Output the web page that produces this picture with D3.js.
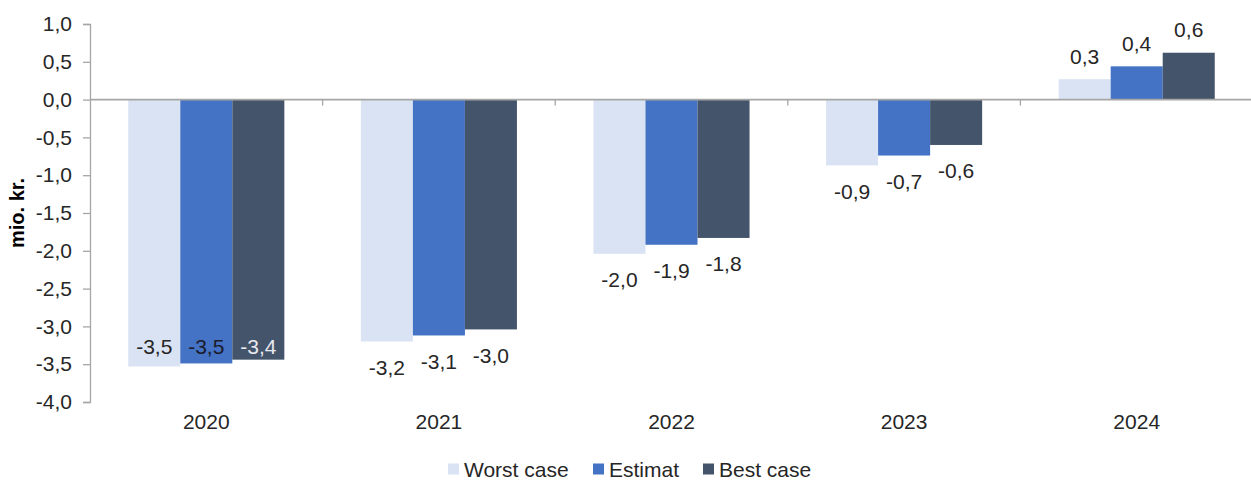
<!DOCTYPE html>
<html>
<head>
<meta charset="utf-8">
<script src="https://cdn.jsdelivr.net/npm/d3@7"></script>
<style>
  html, body { margin: 0; padding: 0; background: #ffffff; }
  svg { display: block; font-family: "Liberation Sans", Arial, sans-serif; }
</style>
</head>
<body>
<svg id="chart" width="1251" height="480"></svg>
<script>
// Annual result by scenario (mio. kr.)
const years = ["2020", "2021", "2022", "2023", "2024"];
const seriesNames = ["Worst case", "Estimat", "Best case"];
const worstCase = [-3.53, -3.20, -2.04, -0.87, 0.27];
const estimat   = [-3.49, -3.12, -1.92, -0.74, 0.44];
const bestCase  = [-3.44, -3.04, -1.83, -0.60, 0.62];
const yTicks = [-4.0, -3.5, -3.0, -2.5, -2.0, -1.5, -1.0, -0.5, 0.0, 0.5, 1.0];
const yTitle = "mio. kr.";

const seriesValues = [worstCase, estimat, bestCase];
const colors = ["#dae3f3", "#4472c4", "#44546a"];
const insideLabelColors = ["#262626", "#1b1b2a", "#e8e8ee"];
const textColor = "#262626";
const axisColor = "#a6a6a6";
const fontSize = 21;
const fontFamily = "'Liberation Sans', Arial, sans-serif";

// Danish number style: decimal comma, plain hyphen for negatives
const locale = d3.formatLocale({ decimal: ",", thousands: ".", grouping: [3], currency: ["", " kr."], minus: "-" });
const fmt = locale.format(".1f");

const svg = d3.select("#chart");
const plot = { left: 90, right: 1253, top: 24, bottom: 402 };

const x = d3.scaleBand()
  .domain(years)
  .range([plot.left, plot.right])
  .paddingInner(0.329)
  .paddingOuter(0.1645);

const xs = d3.scaleBand()
  .domain(seriesNames)
  .range([0, x.bandwidth()]);

const y = d3.scaleLinear()
  .domain([-4, 1])
  .range([plot.bottom, plot.top]);

// Y axis
const yAxis = svg.append("g")
  .attr("transform", `translate(${plot.left},0)`)
  .call(d3.axisLeft(y).tickValues(yTicks).tickFormat(fmt).tickSize(7).tickPadding(11));
yAxis.select(".domain").attr("stroke", axisColor).attr("stroke-width", 1.3);
yAxis.selectAll(".tick line").attr("stroke", axisColor).attr("stroke-width", 1.3);
yAxis.selectAll(".tick text")
  .attr("fill", textColor)
  .style("font-size", fontSize + "px")
  .style("font-family", fontFamily);

// Y title
svg.append("text")
  .attr("transform", "translate(24,213) rotate(-90)")
  .attr("text-anchor", "middle")
  .attr("fill", "#000")
  .style("font-size", "20px")
  .style("font-weight", "bold")
  .style("font-family", fontFamily)
  .text(yTitle);

// Bars
const groups = svg.append("g").selectAll("g")
  .data(years)
  .join("g")
  .attr("transform", d => `translate(${x(d)},0)`);

const barData = (d, i) => seriesNames.map((s, k) => ({
  year: d, series: s, k, value: seriesValues[k][i],
  groupMin: d3.min(seriesValues, arr => arr[i])
}));

groups.selectAll("rect")
  .data(barData)
  .join("rect")
  .attr("x", d => xs(d.series))
  .attr("width", xs.bandwidth())
  .attr("y", d => y(Math.max(0, d.value)))
  .attr("height", d => Math.abs(y(d.value) - y(0)))
  .attr("fill", d => colors[d.k]);

// Zero line with category separators
const zeroAxis = svg.append("g")
  .attr("transform", `translate(0,${y(0)})`);
zeroAxis.append("line")
  .attr("x1", plot.left).attr("x2", 1251)
  .attr("stroke", axisColor).attr("stroke-width", 1.6);
zeroAxis.selectAll("line.sep")
  .data(years.slice(1))
  .join("line")
  .attr("class", "sep")
  .attr("x1", d => x(d) - x.step() * x.paddingInner() / 2)
  .attr("x2", d => x(d) - x.step() * x.paddingInner() / 2)
  .attr("y1", 0).attr("y2", 6)
  .attr("stroke", axisColor).attr("stroke-width", 1.3);

// Category labels
const xAxis = svg.append("g")
  .attr("transform", `translate(0,${plot.bottom})`)
  .call(d3.axisBottom(x).tickSize(0).tickPadding(12));
xAxis.select(".domain").remove();
xAxis.selectAll(".tick text")
  .attr("fill", textColor)
  .style("font-size", fontSize + "px")
  .style("font-family", fontFamily);

// Data labels: outside the bar end, moved inside when there is no room below
const isInside = d => d.value < 0 && y(d.groupMin) + 45 > plot.bottom;
groups.selectAll("text.val")
  .data(barData)
  .join("text")
  .attr("class", "val")
  .attr("x", d => xs(d.series) + xs.bandwidth() / 2)
  .attr("y", d => {
    const end = y(d.value);
    if (d.value >= 0) return end - 23;
    if (isInside(d)) return y(d.groupMin) - 20;
    return end + 26;
  })
  .attr("text-anchor", "middle")
  .attr("dominant-baseline", "central")
  .attr("fill", d => isInside(d) ? insideLabelColors[d.k] : textColor)
  .style("font-size", fontSize + "px")
  .style("font-family", fontFamily)
  .text(d => fmt(d.value));

// Legend
const legendX = [448, 593, 703];
const legend = svg.append("g").attr("transform", "translate(0,469)");
const items = legend.selectAll("g")
  .data(seriesNames)
  .join("g")
  .attr("transform", (d, i) => `translate(${legendX[i]},0)`);
items.append("rect")
  .attr("x", 0).attr("y", -5.5)
  .attr("width", 11).attr("height", 11)
  .attr("fill", (d, i) => colors[i]);
items.append("text")
  .attr("x", 16)
  .attr("dominant-baseline", "central")
  .attr("fill", textColor)
  .style("font-size", fontSize + "px")
  .style("font-family", fontFamily)
  .text(d => d);
</script>
</body>
</html>
